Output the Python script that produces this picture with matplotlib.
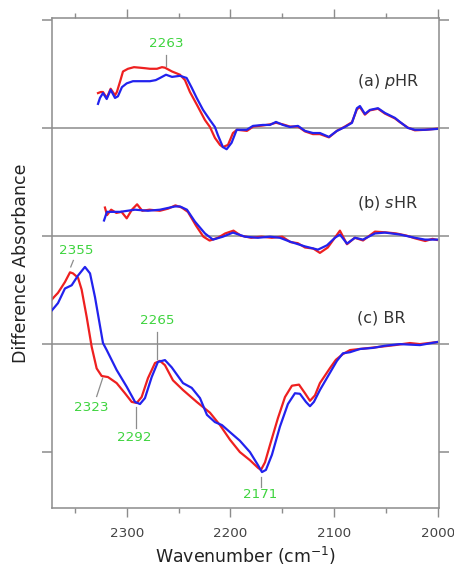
import numpy as np
import matplotlib
matplotlib.use("Agg")
import matplotlib.pyplot as plt

# (wavenumber, difference absorbance), each trace relative to its own baseline
pHR_red = [(2327.7, 0.32), (2325.0, 0.33), (2322.9, 0.33), (2319.3, 0.275), (2315.5, 0.36),
           (2311.3, 0.30), (2309.5, 0.33), (2306.0, 0.44), (2303.6, 0.52), (2298.8, 0.545),
           (2293.0, 0.56), (2287.2, 0.555), (2282.0, 0.55), (2277.6, 0.545), (2270.8, 0.545),
           (2266.0, 0.56), (2263.1, 0.555), (2256.3, 0.52), (2248.6, 0.49), (2243.8, 0.44),
           (2239.0, 0.33), (2232.2, 0.21), (2224.5, 0.07), (2219.7, 0.006), (2214.9, -0.095),
           (2210.0, -0.16), (2207.2, -0.18), (2202.3, -0.16), (2197.5, -0.05), (2193.6, -0.02),
           (2184.0, -0.03), (2178.0, 0.01), (2168.6, 0.02), (2161.8, 0.03), (2156.0, 0.045),
           (2149.3, 0.03), (2142.5, 0.01), (2134.8, 0.01), (2128.0, -0.035), (2120.3, -0.06),
           (2113.6, -0.06), (2104.9, -0.09), (2097.2, -0.03), (2089.5, 0.01), (2082.7, 0.05),
           (2077.9, 0.17), (2075.0, 0.19), (2070.2, 0.12), (2065.4, 0.16), (2057.6, 0.175),
           (2050.9, 0.13), (2041.2, 0.085), (2036.4, 0.05), (2028.7, 0.0), (2022.0, -0.025),
           (2012.3, -0.02), (2000.7, -0.01)]
pHR_blue = [(2327.7, 0.22), (2325.8, 0.275), (2322.9, 0.32), (2319.3, 0.265), (2315.5, 0.35),
            (2311.3, 0.275), (2308.5, 0.29), (2304.6, 0.375), (2300.0, 0.41), (2294.0, 0.43),
            (2285.0, 0.43), (2277.6, 0.43), (2272.0, 0.44), (2267.9, 0.46), (2262.1, 0.49),
            (2256.3, 0.47), (2248.6, 0.48), (2242.2, 0.46), (2237.3, 0.37), (2232.5, 0.275),
            (2226.4, 0.165), (2219.7, 0.07), (2214.9, 0.006), (2212.0, -0.07), (2207.2, -0.18),
            (2203.6, -0.20), (2198.8, -0.14), (2193.9, -0.02), (2184.3, -0.02), (2178.2, 0.016),
            (2168.6, 0.025), (2161.8, 0.025), (2156.0, 0.053), (2149.3, 0.025), (2142.5, 0.006),
            (2134.8, 0.016), (2128.0, -0.03), (2120.3, -0.05), (2113.6, -0.05), (2104.9, -0.086),
            (2097.2, -0.03), (2089.5, 0.006), (2082.7, 0.044), (2077.9, 0.18), (2075.0, 0.20),
            (2070.2, 0.127), (2065.4, 0.164), (2057.6, 0.18), (2050.9, 0.136), (2041.2, 0.09),
            (2036.4, 0.053), (2028.7, -0.003), (2022.0, -0.02), (2012.3, -0.02), (2000.7, -0.012)]

sHR_red = [(2321.0, 0.26), (2319.0, 0.19), (2315.0, 0.24), (2310.0, 0.21), (2305.0, 0.22),
           (2300.0, 0.16), (2295.0, 0.24), (2290.0, 0.29), (2285.0, 0.23), (2278.0, 0.24),
           (2268.0, 0.23), (2260.0, 0.25), (2253.0, 0.28), (2247.0, 0.26), (2241.0, 0.22),
           (2233.0, 0.09), (2226.0, -0.01), (2220.0, -0.046), (2212.0, -0.02), (2205.0, 0.02),
           (2197.0, 0.046), (2190.0, 0.0), (2180.0, -0.02), (2170.0, -0.01), (2160.0, -0.02),
           (2150.0, -0.01), (2142.0, -0.06), (2135.0, -0.07), (2128.0, -0.11), (2120.0, -0.12),
           (2113.6, -0.16), (2106.0, -0.11), (2100.0, -0.03), (2094.3, 0.046), (2087.5, -0.08),
           (2080.0, -0.02), (2072.0, -0.045), (2060.5, 0.037), (2050.0, 0.03), (2040.0, 0.02),
           (2030.0, 0.0), (2022.0, -0.025), (2012.0, -0.05), (2005.0, -0.03), (2000.7, -0.04)]
sHR_blue = [(2321.9, 0.14), (2319.1, 0.22), (2306.5, 0.22), (2292.0, 0.24), (2279.5, 0.23),
            (2267.9, 0.24), (2253.5, 0.27), (2248.6, 0.27), (2241.9, 0.24), (2234.2, 0.13),
            (2224.5, 0.02), (2216.8, -0.037), (2207.2, -0.01), (2197.5, 0.028), (2185.9, -0.01),
            (2173.4, -0.02), (2161.8, -0.01), (2152.2, -0.02), (2142.5, -0.056), (2128.0, -0.10),
            (2115.5, -0.13), (2106.8, -0.09), (2099.1, -0.02), (2094.3, 0.01), (2087.5, -0.074),
            (2079.8, -0.02), (2072.1, -0.037), (2060.5, 0.02), (2050.9, 0.028), (2036.4, 0.01),
            (2022.0, -0.02), (2012.3, -0.037), (2000.7, -0.037)]

BR_red = [(2372.0, 0.41), (2370.2, 0.43), (2366.3, 0.47), (2359.6, 0.57), (2354.7, 0.66),
          (2351.8, 0.65), (2347.0, 0.61), (2343.5, 0.50), (2338.6, 0.245), (2333.8, -0.03),
          (2329.0, -0.23), (2324.2, -0.30), (2318.1, -0.31), (2309.7, -0.366), (2301.7, -0.46),
          (2295.2, -0.54), (2290.4, -0.55), (2285.6, -0.495), (2279.5, -0.32), (2272.7, -0.18),
          (2267.9, -0.16), (2263.1, -0.20), (2255.4, -0.34), (2245.7, -0.43), (2232.5, -0.54),
          (2219.7, -0.64), (2210.0, -0.755), (2200.4, -0.89), (2190.8, -1.005), (2181.1, -1.08),
          (2173.4, -1.15), (2170.5, -1.17), (2166.6, -1.10), (2161.8, -0.94), (2154.1, -0.69),
          (2147.3, -0.495), (2140.6, -0.39), (2133.8, -0.38), (2128.0, -0.46), (2123.2, -0.53),
          (2118.4, -0.48), (2113.6, -0.366), (2103.9, -0.227), (2098.2, -0.15), (2091.4, -0.097),
          (2084.6, -0.06), (2075.0, -0.05), (2065.4, -0.04), (2055.7, -0.03), (2041.2, -0.014),
          (2026.8, 0.005), (2017.1, -0.005), (2000.7, 0.014)]
BR_blue = [(2372.0, 0.31), (2370.2, 0.33), (2366.3, 0.375), (2359.6, 0.51), (2353.1, 0.54),
           (2347.0, 0.63), (2340.3, 0.71), (2335.4, 0.65), (2330.6, 0.43), (2322.9, 0.005),
           (2319.3, -0.06), (2309.7, -0.245), (2300.0, -0.40), (2292.0, -0.54), (2287.2, -0.56),
           (2282.4, -0.505), (2275.9, -0.31), (2269.9, -0.17), (2263.1, -0.153), (2256.6, -0.22),
           (2245.7, -0.366), (2237.3, -0.41), (2229.3, -0.505), (2222.6, -0.66), (2214.9, -0.727),
           (2208.1, -0.755), (2200.4, -0.82), (2190.8, -0.90), (2181.1, -1.005), (2173.4, -1.125),
           (2169.5, -1.19), (2165.7, -1.17), (2159.9, -1.03), (2152.2, -0.77), (2144.5, -0.56),
           (2137.7, -0.46), (2132.9, -0.465), (2127.1, -0.54), (2123.2, -0.58), (2119.4, -0.54),
           (2113.6, -0.43), (2103.9, -0.27), (2097.2, -0.16), (2091.4, -0.09), (2084.6, -0.08),
           (2075.0, -0.05), (2062.5, -0.04), (2050.9, -0.02), (2036.4, -0.005), (2017.1, -0.014),
           (2000.7, 0.014)]

offsets = {'a': 2.0, 'b': 1.0, 'c': 0.0}
panel_labels = [('a', r'(a) $\mathit{p}$HR', 2.43), ('b', r'(b) $\mathit{s}$HR', 1.30), ('c', '(c) BR', 0.235)]

# peak labels: text, text position, leader line start/end
peaks = [('2263', (2262.0, 2.78), (2262.3, 2.67), (2262.3, 2.57)),
         ('2355', (2348.5, 0.86), (2351.5, 0.77), (2354.0, 0.71)),
         ('2323', (2333.8, -0.59), (2329.0, -0.49), (2323.2, -0.32)),
         ('2265', (2270.3, 0.21), (2270.5, 0.11), (2270.5, -0.14)),
         ('2292', (2292.5, -0.87), (2291.4, -0.585), (2291.4, -0.785)),
         ('2171', (2171.5, -1.40), (2170.8, -1.24), (2170.8, -1.325))]

RED = '#ee2020'
BLUE = '#2222ee'
GREEN = '#3fd43f'
GREY = '#8c8c8c'

fig = plt.figure(figsize=(4.54, 5.67), dpi=100)
ax = fig.add_axes([0.1145, 0.104, 0.8525, 0.864])

for off in offsets.values():
    ax.axhline(off, color=GREY, lw=1.1, zorder=1)

traces = [('a', pHR_red, pHR_blue), ('b', sHR_red, sHR_blue), ('c', BR_red, BR_blue)]
for key, red, blue in traces:
    r = np.array(red)
    b = np.array(blue)
    ax.plot(r[:, 0], r[:, 1] + offsets[key], color=RED, lw=1.6, zorder=2)
    ax.plot(b[:, 0], b[:, 1] + offsets[key], color=BLUE, lw=1.6, zorder=3)

for key, lab, y in panel_labels:
    ax.text(2078, y, lab, fontsize=11.5, color='#333333', va='center', ha='left')

for txt, pos, p1, p2 in peaks:
    ax.text(pos[0], pos[1], txt, fontsize=9.7, color=GREEN, ha='center', va='center')
    ax.plot([p1[0], p2[0]], [p1[1], p2[1]], color=GREY, lw=0.9)

ax.set_xlim(2372.1, 1998.7)
ax.set_ylim(-1.523, 3.014)
ax.set_xticks([2300, 2200, 2100, 2000])
ax.set_xticks([2350, 2250, 2150, 2050], minor=True)
ax.set_yticks([-1, 0, 1, 2, 3])
ax.set_yticklabels([])

ax.tick_params(axis='x', which='major', direction='out', length=6.5, width=1, color=GREY,
               top=True, labelsize=9.7, labelcolor='#444444', pad=7)
ax.tick_params(axis='x', which='minor', direction='out', length=3.5, width=1, color=GREY, top=True)
ax.tick_params(axis='y', which='major', direction='out', length=7.5, width=1.1, color=GREY,
               right=True)
for s in ax.spines.values():
    s.set_color(GREY)
    s.set_linewidth(1.1)

ax.set_xlabel('Wavenumber (cm$^{-1}$)', fontsize=12.5, color='#222222', labelpad=4)
ax.set_ylabel('Difference Absorbance', fontsize=12.5, color='#222222', labelpad=5)

fig.savefig('out.png', dpi=100)
